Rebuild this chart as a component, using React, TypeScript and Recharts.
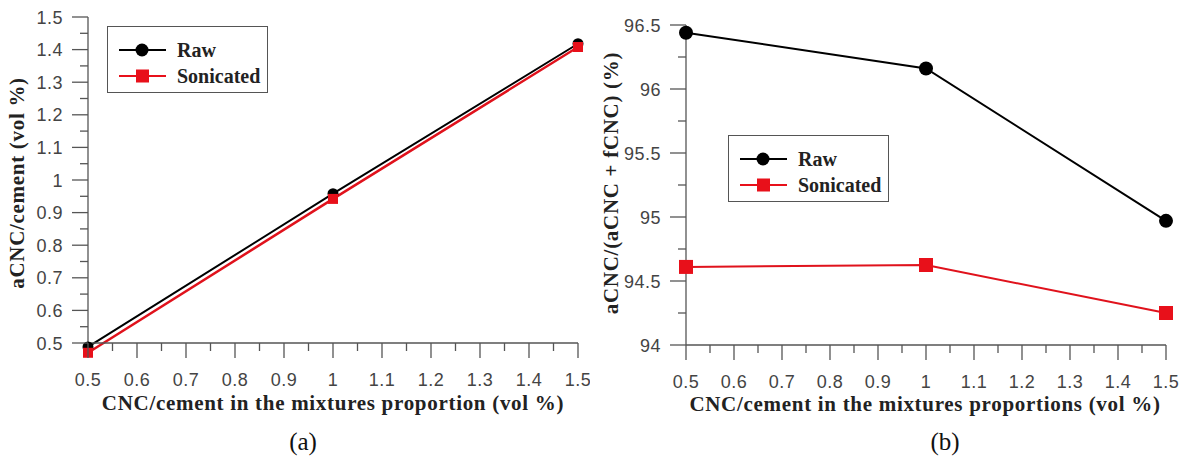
import { Label, Legend, Line, LineChart, XAxis, YAxis } from 'recharts'

// CNC/cement in the mixtures (vol %)
const proportion = [0.5, 1, 1.5]

// (a) aCNC/cement (vol %)
const rawA = [0.488, 0.958, 1.418]
const sonicatedA = [0.47, 0.942, 1.408]

// (b) aCNC/(aCNC + fCNC) (%)
const rawB = [96.44, 96.16, 94.97]
const sonicatedB = [94.61, 94.625, 94.25]

const xMajor = [0.5, 0.6, 0.7, 0.8, 0.9, 1, 1.1, 1.2, 1.3, 1.4, 1.5]
const yMajorA = [0.5, 0.6, 0.7, 0.8, 0.9, 1, 1.1, 1.2, 1.3, 1.4, 1.5]
const yMajorB = [94, 94.5, 95, 95.5, 96, 96.5]

const withMinor = (major: number[]) => {
  const out: number[] = []
  major.forEach((v, i) => {
    out.push(v)
    if (i < major.length - 1) out.push(+((v + major[i + 1]) / 2).toFixed(3))
  })
  return out
}

const isMajor = (list: number[], v: number) => list.some((m) => Math.abs(m - v) < 1e-6)

const TICK_SIZE = 16
const TICK_MARGIN = 6
const AXIS = '#555'
const TICK_FONT = '"Liberation Sans", Arial, sans-serif'
const SERIF = '"Liberation Serif", "Times New Roman", serif'

const makeYTick = (major: number[]) => (props: any) => {
  const { x, y, payload } = props
  const axisX = x + TICK_SIZE + TICK_MARGIN
  const big = isMajor(major, payload.value)
  return (
    <g>
      <line x1={axisX - (big ? 16 : 8)} x2={axisX} y1={y} y2={y} stroke={AXIS} strokeWidth={1.3} />
      {big && (
        <text x={axisX - 25} y={y + 6.5} textAnchor="end" fontSize={18} letterSpacing={0.5}
          fontFamily={TICK_FONT} fill="#444">
          {payload.value}
        </text>
      )}
    </g>
  )
}

const makeXTick = (major: number[]) => (props: any) => {
  const { x, y, payload } = props
  const axisY = y - TICK_SIZE - TICK_MARGIN
  const big = isMajor(major, payload.value)
  return (
    <g>
      <line x1={x} x2={x} y1={axisY} y2={axisY + (big ? 15 : 8)} stroke={AXIS} strokeWidth={1.3} />
      {big && (
        <text x={x} y={axisY + 43} textAnchor="middle" fontSize={18} letterSpacing={0.5}
          fontFamily={TICK_FONT} fill="#444">
          {payload.value}
        </text>
      )}
    </g>
  )
}

const circleDot = (r: number) => (p: any) => (
  <circle key={`c-${p.index}`} cx={p.cx} cy={p.cy} r={r} fill="#000" />
)
const squareDot = (s: number) => (p: any) => (
  <rect key={`s-${p.index}`} x={p.cx - s / 2} y={p.cy - s / 2} width={s} height={s} fill="#e8101a" />
)

const LegendBox = ({ left, top }: { left: number; top: number }) => {
  const rows = [
    { name: 'Raw', color: '#000', square: false },
    { name: 'Sonicated', color: '#e8101a', square: true },
  ]
  return (
    <div style={{
      position: 'absolute', left, top, width: 161, height: 67, border: '1px solid #555',
      background: '#fff', boxSizing: 'border-box',
    }}>
      <svg width={161} height={67} style={{ position: 'absolute', left: 0, top: 0 }}>
        {rows.map((r, i) => {
          const cy = 23 + i * 26
          return (
            <g key={r.name}>
              <line x1={11} x2={58} y1={cy} y2={cy} stroke={r.color} strokeWidth={2} />
              {r.square
                ? <rect x={28} y={cy - 6.5} width={13} height={13} fill={r.color} />
                : <circle cx={34} cy={cy} r={6.5} fill={r.color} />}
              <text x={69} y={cy + 7} fontSize={20} fontWeight="bold" fontFamily={SERIF} fill="#222">
                {r.name}
              </text>
            </g>
          )
        })}
      </svg>
    </div>
  )
}

const yTitle = (text: string, x: number, cy: number) => () => (
  <text x={x} y={cy} transform={`rotate(-90 ${x} ${cy})`} textAnchor="middle" dominantBaseline="central"
    fontSize={21} fontWeight="bold" letterSpacing={0.7} fontFamily={SERIF} fill="#222">
    {text}
  </text>
)

const xTitle = (text: string, cx: number, y: number) => () => (
  <text x={cx} y={y} textAnchor="middle" fontSize={21} fontWeight="bold" letterSpacing={0.7}
    fontFamily={SERIF} fill="#222">
    {text}
  </text>
)

const dataA = proportion.map((x, i) => ({ x, raw: rawA[i], sonicated: sonicatedA[i] }))
const dataB = proportion.map((x, i) => ({ x, raw: rawB[i], sonicated: sonicatedB[i] }))

export default function App() {
  return (
    <div style={{ position: 'absolute', left: 0, top: 0, width: 1181, height: 465, background: '#fff' }}>
      {/* the first points of (a) sit just under the axis, keep them visible */}
      <style>{'.recharts-wrapper [clip-path] { clip-path: none !important; }'}</style>

      <div style={{ position: 'absolute', left: 0, top: 0 }}>
        <LineChart width={590} height={465} data={dataA} margin={{ top: 17, right: 12, bottom: 0, left: 0 }}>
          <XAxis dataKey="x" type="number" domain={[0.5, 1.5]} ticks={withMinor(xMajor)} interval={0}
            height={122} tickSize={TICK_SIZE} tickMargin={TICK_MARGIN} tickLine={false}
            axisLine={{ stroke: AXIS, strokeWidth: 1.3 }} tick={makeXTick(xMajor)}>
            <Label content={xTitle('CNC/cement in the mixtures proportion (vol %)', 333, 410)} />
          </XAxis>
          <YAxis type="number" domain={[0.5, 1.5]} allowDataOverflow ticks={withMinor(yMajorA)} interval={0}
            width={88} tickSize={TICK_SIZE} tickMargin={TICK_MARGIN} tickLine={false}
            axisLine={{ stroke: AXIS, strokeWidth: 1.3 }} tick={makeYTick(yMajorA)}>
            <Label content={yTitle('aCNC/cement (vol %)', 17, 183)} />
          </YAxis>
          <Line dataKey="raw" stroke="#000" strokeWidth={2} dot={circleDot(5.5)} isAnimationActive={false} />
          <Line dataKey="sonicated" stroke="#e0121c" strokeWidth={2.5} dot={squareDot(10)} isAnimationActive={false} />
          <Legend content={() => null} />
        </LineChart>
        <LegendBox left={107} top={26} />
      </div>

      <div style={{ position: 'absolute', left: 590, top: 0 }}>
        <LineChart width={591} height={465} data={dataB} margin={{ top: 25, right: 15, bottom: 0, left: 0 }}>
          <XAxis dataKey="x" type="number" domain={[0.5, 1.5]} ticks={withMinor(xMajor)} interval={0}
            height={120} tickSize={TICK_SIZE} tickMargin={TICK_MARGIN} tickLine={false}
            axisLine={{ stroke: AXIS, strokeWidth: 1.3 }} tick={makeXTick(xMajor)}>
            <Label content={xTitle('CNC/cement in the mixtures proportions (vol %)', 335, 411)} />
          </XAxis>
          <YAxis type="number" domain={[94, 96.5]} allowDataOverflow ticks={withMinor(yMajorB)} interval={0}
            width={96} tickSize={TICK_SIZE} tickMargin={TICK_MARGIN} tickLine={false}
            axisLine={{ stroke: AXIS, strokeWidth: 1.3 }} tick={makeYTick(yMajorB)}>
            <Label content={yTitle('aCNC/(aCNC + fCNC) (%)', 21, 183)} />
          </YAxis>
          <Line dataKey="raw" stroke="#000" strokeWidth={2} dot={circleDot(7)} isAnimationActive={false} />
          <Line dataKey="sonicated" stroke="#e0121c" strokeWidth={2} dot={squareDot(14)} isAnimationActive={false} />
        </LineChart>
        <LegendBox left={138} top={135} />
      </div>

      <div style={{ position: 'absolute', left: 280, top: 428, width: 46, textAlign: 'center',
        fontFamily: SERIF, fontSize: 25, color: '#111' }}>(a)</div>
      <div style={{ position: 'absolute', left: 922, top: 428, width: 46, textAlign: 'center',
        fontFamily: SERIF, fontSize: 25, color: '#111' }}>(b)</div>
    </div>
  )
}
